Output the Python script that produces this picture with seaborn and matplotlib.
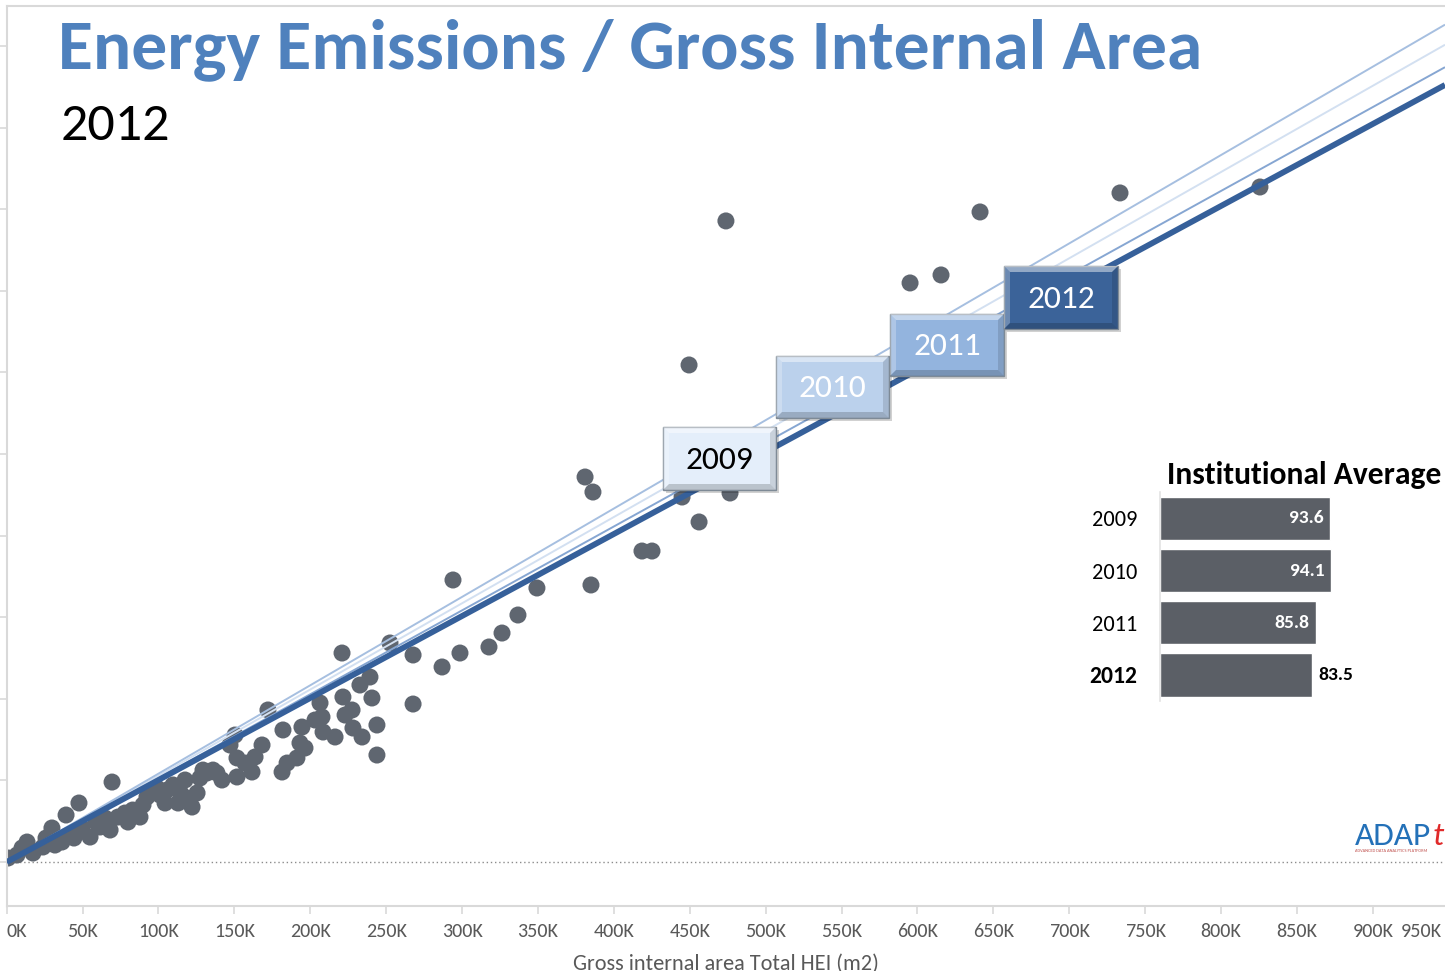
import matplotlib
matplotlib.use("Agg")
import matplotlib.pyplot as plt
import seaborn as sns
import pandas as pd
import numpy as np
from matplotlib import font_manager
from matplotlib.patches import Rectangle, Polygon

# ---------------- data ----------------
area_m2 = [900, 6800, 10100, 13400, 17300, 23900, 25900, 29800, 31800, 36400, 39100,
           41700, 44300, 47600, 49600, 54900, 58800, 61500, 64800, 68100, 69400, 73300,
           77900, 79900, 83000, 87800, 89800, 92400, 94400, 99000, 101000, 104300, 105600,
           109600, 112900, 114200, 117500, 118800, 122100, 125400, 127300, 129300, 132000,
           135900, 138500, 141800, 147100, 150400, 151700, 151700, 157000, 161600, 163600,
           168200, 172100, 181400, 182000, 184700, 191200, 193200, 194500, 196500, 203100,
           206400, 207700, 208400, 216300, 220900, 221500, 222900, 227500, 228100, 232700,
           234100, 239300, 240600, 243900, 243900, 252500, 267700, 267700, 286800, 294000,
           298600, 317700, 326300, 336800, 349300, 381000, 384900, 386200, 418500, 425100,
           444900, 449500, 456100, 473800, 476500, 595100, 615500, 641200, 733400, 825600]
emissions_t = [490, 860, 1720, 2450, 1100, 1840, 2940, 4170, 2080, 2450, 5760,
               3310, 2940, 7230, 4170, 3060, 4900, 4290, 5390, 3920, 9800, 5510,
               6000, 4900, 6370, 5510, 6990, 7970, 8460, 9070, 8210, 7230, 8820,
               9440, 7230, 8580, 10050, 7840, 6740, 8460, 10290, 11270, 10910,
               11270, 10910, 10050, 14340, 15560, 12750, 10420, 12130, 11030, 12870,
               14340, 18630, 11030, 16180, 12130, 12750, 14580, 16540, 13970, 17400,
               19490, 17770, 15930, 15320, 25610, 20220, 18010, 18630, 16420, 21690,
               15320, 22670, 20100, 16790, 13110, 26840, 25370, 19360, 23900, 34560,
               25610, 26350, 28060, 30270, 33580, 47180, 33950, 45340, 38110, 38110,
               44730, 60910, 41670, 78560, 45220, 70960, 71940, 79660, 81990, 82720]

trend_years = ["2009", "2010", "2011", "2012"]
trend_slopes = [0.1057, 0.1083, 0.1028, 0.1005]   # tonnes per m2

avg_years = ["2009", "2010", "2011", "2012"]
avg_values = [93.6, 94.1, 85.8, 83.5]

x_tick_values = [0, 50000, 100000, 150000, 200000, 250000, 300000, 350000, 400000,
                 450000, 500000, 550000, 600000, 650000, 700000, 750000, 800000,
                 850000, 900000]
x_tick_labels = ["0K", "50K", "100K", "150K", "200K", "250K", "300K", "350K", "400K",
                 "450K", "500K", "550K", "600K", "650K", "700K", "750K", "800K",
                 "850K", "900K"]
last_tick_label = "950K"
y_tick_values = [0, 10000, 20000, 30000, 40000, 50000, 60000, 70000, 80000, 90000, 100000]

title_text = "Energy Emissions / Gross Internal Area"
subtitle_text = "2012"
x_label = "Gross internal area Total HEI (m2)"
inset_title = "Institutional Average"

# ---------------- style ----------------
sns.set_theme(style="white")
available = {f.name for f in font_manager.fontManager.ttflist}
FONT = next((f for f in ["Carlito", "Lato", "Open Sans", "DejaVu Sans"] if f in available), "DejaVu Sans")
plt.rcParams["font.family"] = [FONT, "DejaVu Sans"]

W, H = 1445, 971
fig = plt.figure(figsize=(W / 100, H / 100), dpi=100)
fig.patch.set_facecolor("white")

def fx(px):
    return px / W

def fy(py):
    return 1 - py / H

GRID = "#D9D9D9"
DOT = "#5F6670"
TXT = "#595959"
TICK_FS = 14.5

# main axes (plot area reaches beyond right edge of the picture)
ax = fig.add_axes([fx(6.7), fy(906), fx(W) - fx(6.7), fy(6) - fy(906)])
ax.set_xlim(0, 947500)
ax.set_ylim(-5390, 104900)

sns.scatterplot(x=area_m2, y=emissions_t, color=DOT, s=150, edgecolor="none",
                linewidth=0, ax=ax, zorder=2, legend=False)

line_colors = {"2009": "#D3E0F1", "2010": "#A6BFE0", "2011": "#86A6D2", "2012": "#36609A"}
line_widths = {"2009": 1.4, "2010": 1.4, "2011": 1.4, "2012": 4.2}
xmax = 947500
for yr, slope in zip(trend_years, trend_slopes):
    df = pd.DataFrame({"x": [0, xmax], "y": [0, slope * xmax]})
    sns.lineplot(data=df, x="x", y="y", ax=ax, color=line_colors[yr],
                 linewidth=line_widths[yr], zorder=4 if yr == "2012" else 3,
                 solid_capstyle="butt")

ax.axhline(0, color="#8C8C8C", linestyle=(0, (1, 2)), linewidth=1.0, zorder=1)

ax.set_xticks(x_tick_values)
ax.set_xticklabels(x_tick_labels)
ax.set_yticks(y_tick_values)
ax.set_yticklabels([])
ax.tick_params(axis="x", which="both", direction="out", length=6, width=1.2,
               color=GRID, labelsize=TICK_FS, labelcolor=TXT, pad=6, bottom=True)
ax.tick_params(axis="y", which="both", direction="out", length=7, width=1.2,
               color=GRID, left=True)
for s in ["left", "bottom", "top"]:
    ax.spines[s].set_color(GRID)
    ax.spines[s].set_linewidth(1.5)
ax.spines["right"].set_visible(False)
ax.set_xlabel(x_label, fontsize=16, color=TXT, labelpad=10)
ax.set_ylabel("")
ax.grid(False)

# first / last tick label alignment like the original
labels = ax.get_xticklabels()
labels[0].set_horizontalalignment("left")
ax.annotate(last_tick_label, xy=(1.0, 0.0), xycoords="axes fraction",
            xytext=(-2, -12), textcoords="offset points", ha="right", va="top",
            fontsize=TICK_FS, color=TXT)

# ---------------- titles ----------------
renderer = fig.canvas.get_renderer()

def fit_text(x, y, s, target_w, base_size, **kw):
    t = fig.text(x, y, s, fontsize=base_size, **kw)
    w = t.get_window_extent(renderer).width
    t.set_fontsize(base_size * target_w / w)
    return t

fit_text(fx(58), fy(68), title_text, 1146, 50, color="#4F81BD", fontweight="bold",
         va="baseline", ha="left")
fig.text(fx(61), fy(140), subtitle_text, fontsize=39, color="black", va="baseline", ha="left")

# ---------------- year boxes ----------------
def bevel_box(x0, y0, x1, y1, face, label, tcolor):
    b = 6
    shadow = Rectangle((fx(x0 + 3), fy(y1 + 3)), fx(x1) - fx(x0), fy(y0) - fy(y1),
                       transform=fig.transFigure, facecolor="#000000", alpha=0.18,
                       edgecolor="none", zorder=8)
    fig.add_artist(shadow)
    r = Rectangle((fx(x0), fy(y1)), fx(x1) - fx(x0), fy(y0) - fy(y1),
                  transform=fig.transFigure, facecolor=face, edgecolor="#7E8A96",
                  linewidth=1.0, zorder=9)
    fig.add_artist(r)
    polys = [
        ([(x0, y0), (x1, y0), (x1 - b, y0 + b), (x0 + b, y0 + b)], "white", 0.45),
        ([(x0, y0), (x0 + b, y0 + b), (x0 + b, y1 - b), (x0, y1)], "white", 0.25),
        ([(x0, y1), (x0 + b, y1 - b), (x1 - b, y1 - b), (x1, y1)], "black", 0.18),
        ([(x1, y0), (x1, y1), (x1 - b, y1 - b), (x1 - b, y0 + b)], "black", 0.12),
    ]
    for pts, c, a in polys:
        p = Polygon([(fx(px), fy(py)) for px, py in pts], closed=True,
                    transform=fig.transFigure, facecolor=c, alpha=a,
                    edgecolor="none", zorder=10)
        fig.add_artist(p)
    fig.text(fx((x0 + x1) / 2), fy((y0 + y1) / 2 + 1), label, ha="center", va="center",
             fontsize=24, color=tcolor, zorder=11)

box_specs = [
    (663, 427, 776, 490, "#E4EEFA", "black"),
    (776, 356, 889, 418, "#BBD1EC", "white"),
    (890, 314, 1004, 376, "#93B4DE", "white"),
    (1004, 266, 1118, 329, "#3B6399", "white"),
]
for (x0, y0, x1, y1, face, tc), yr in zip(box_specs, trend_years):
    bevel_box(x0, y0, x1, y1, face, yr, tc)

# ---------------- inset bar chart ----------------
bar_scale = 1.826  # px per unit
axi = fig.add_axes([fx(1159.5), fy(701), fx(1159.5 + 100 * bar_scale) - fx(1159.5),
                    fy(492.4) - fy(701)])
df_avg = pd.DataFrame({"year": avg_years, "avg": avg_values})
sns.barplot(data=df_avg, x="avg", y="year", orient="h", color="#5B5F66",
            saturation=1, width=0.83, ax=axi)
axi.set_xlim(0, 100)
axi.set_ylim(3.5, -0.5)
axi.set_xlabel("")
axi.set_ylabel("")
axi.set_xticks([])
for s in ["top", "right", "bottom"]:
    axi.spines[s].set_visible(False)
axi.spines["left"].set_color("#E3E3E3")
axi.spines["left"].set_linewidth(1.2)
axi.tick_params(axis="y", length=0, pad=16, labelsize=16, labelcolor="black")
for i, t in enumerate(axi.get_yticklabels()):
    if avg_years[i] == "2012":
        t.set_fontweight("bold")
        t.set_fontsize(17)
axi.patch.set_alpha(0)
for i, v in enumerate(avg_values):
    if i < 3:
        axi.text(v - 3.6, i, f"{v}", ha="right", va="center", fontsize=14,
                 fontweight="bold", color="white")
    else:
        axi.text(v + 3.6, i, f"{v}", ha="left", va="center", fontsize=14,
                 fontweight="bold", color="black")

fit_text(fx(1167), fy(484), inset_title, 275, 20, color="black", fontweight="bold",
         va="baseline", ha="left")

# ---------------- logo ----------------
t1 = fig.text(fx(1355), fy(845), "ADAP", fontsize=24, color="#2471B8", va="baseline", ha="left")
w1 = t1.get_window_extent(renderer).width
fig.text(fx(1355 + w1 + 1), fy(845), "t", fontsize=24, color="#E02A2A", style="italic",
         va="baseline", ha="left")
fig.text(fx(1355), fy(852), "ADVANCED DATA ANALYTICS PLATFORM", fontsize=3.2,
         color="#C0504D", va="baseline", ha="left")

fig.savefig("out.png", dpi=100, facecolor="white")
